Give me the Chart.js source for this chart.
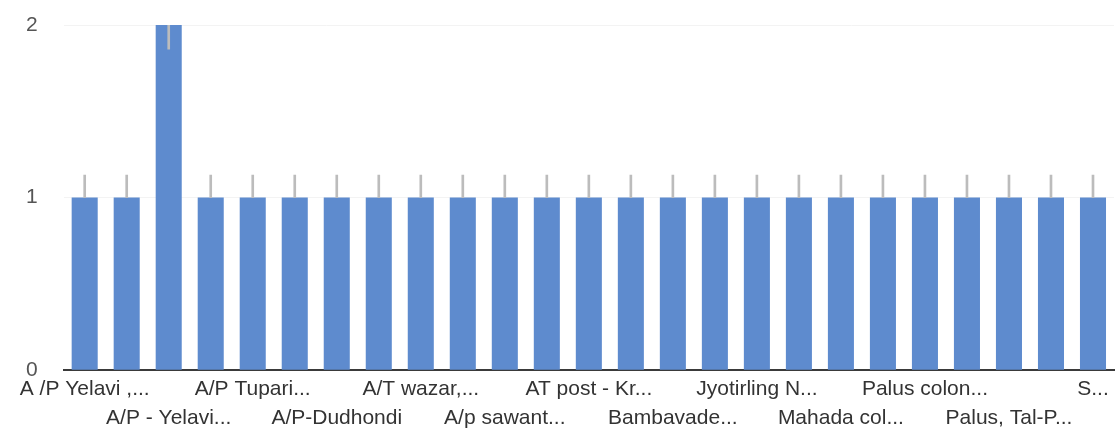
<!DOCTYPE html>
<html>
<head>
<meta charset="utf-8">
<script src="https://cdn.jsdelivr.net/npm/chart.js"></script>
<style>
    html, body { margin: 0; padding: 0; background: #fff; }
    #wrap { width: 1118px; height: 445px; }
</style>
</head>
<body>
<div id="wrap"><canvas id="barChart"></canvas></div>
<script>
// category labels (only the ones shown on the axis are readable)
const categories = [
    'A /P Yelavi ,...', '', 'A/P - Yelavi...', '', 'A/P Tupari...', '',
    'A/P-Dudhondi', '', 'A/T wazar,...', '', 'A/p sawant...', '',
    'AT post - Kr...', '', 'Bambavade...', '', 'Jyotirling N...', '',
    'Mahada col...', '', 'Palus colon...', '', 'Palus, Tal-P...', '', 'S...'
];
const counts = [1, 1, 2, 1, 1, 1, 1, 1, 1, 1, 1, 1, 1, 1, 1, 1, 1, 1, 1, 1, 1, 1, 1, 1, 1];
// grey whisker marks drawn above each bar (low, high)
const whiskerLow  = [1, 1, 1.86, 1, 1, 1, 1, 1, 1, 1, 1, 1, 1, 1, 1, 1, 1, 1, 1, 1, 1, 1, 1, 1, 1];
const whiskerHigh = [1.13, 1.13, 2, 1.13, 1.13, 1.13, 1.13, 1.13, 1.13, 1.13, 1.13, 1.13, 1.13,
                     1.13, 1.13, 1.13, 1.13, 1.13, 1.13, 1.13, 1.13, 1.13, 1.13, 1.13, 1.13];
const yTicks = [0, 1, 2];

let whiskers = whiskerLow.map(function(lo, i) { return [lo, whiskerHigh[i]]; });

let ctx = document.getElementById('barChart').getContext('2d');
let chart = new Chart(ctx, {
    type: 'bar',
    data: {
        labels: categories,
        datasets: [{
            data: counts,
            backgroundColor: 'rgb(94, 139, 206)',
            borderWidth: 0,
            barPercentage: 0.62,
            categoryPercentage: 1,
            grouped: false,
            order: 1
        }, {
            data: whiskers,
            backgroundColor: 'rgb(188, 188, 188)',
            borderWidth: 0,
            barThickness: 2,
            grouped: false,
            order: 0
        }]
    },
    options: {
        responsive: true,
        maintainAspectRatio: false,
        animation: false,
        layout: { padding: { top: 25, right: 4, left: 0, bottom: 8 } },
        plugins: {
            legend: { display: false },
            tooltip: { enabled: false }
        },
        scales: {
            x: {
                grid: { display: false, drawTicks: false },
                border: { color: '#3a3a3a', width: 2 },
                ticks: {
                    autoSkip: false,
                    maxRotation: 0,
                    padding: 4,
                    color: '#333',
                    font: { family: 'Liberation Sans, Arial', size: 21, lineHeight: 1.4 },
                    callback: function(v, i) {
                        let l = this.getLabelForValue(v);
                        if (i % 4 === 0) return l;
                        if (i % 4 === 2) return ['', l];
                        return '';
                    }
                }
            },
            y: {
                min: 0,
                max: 2,
                afterBuildTicks: function(axis) {
                    axis.ticks = yTicks.map(function(v) { return { value: v }; });
                },
                afterFit: function(axis) {
                    // label padding should not push the plot top down
                    axis.paddingTop = 0;
                    axis.paddingBottom = 0;
                },
                grid: { color: '#f3f3f3', drawTicks: false },
                border: { display: false },
                ticks: {
                    padding: 26,
                    color: '#555',
                    font: { family: 'Liberation Sans, Arial', size: 21 }
                }
            }
        }
    }
});
</script>
</body>
</html>
